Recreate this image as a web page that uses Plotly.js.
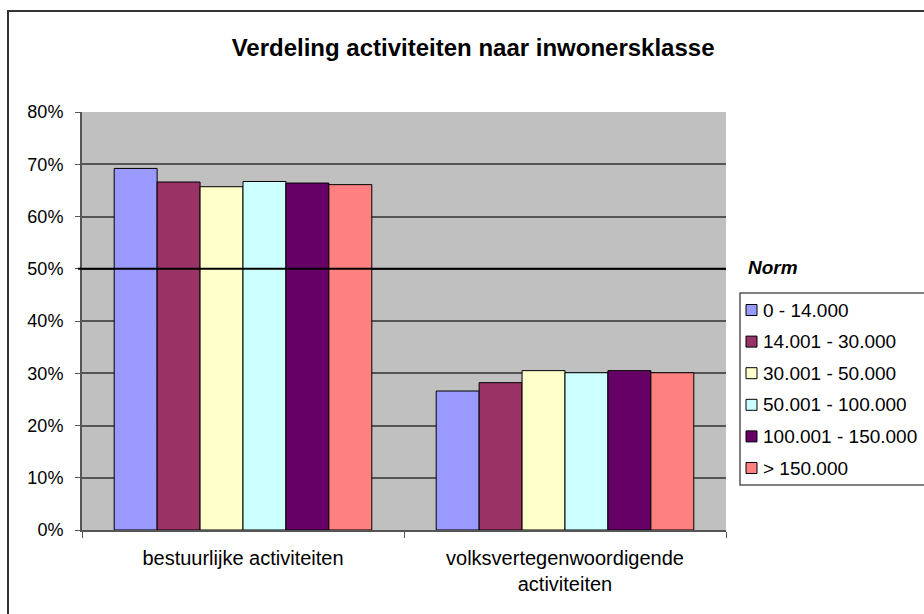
<!DOCTYPE html>
<html>
<head>
<meta charset="utf-8">
<script src="https://cdn.plot.ly/plotly-3.0.1.min.js"></script>
<style>html,body{margin:0;padding:0;background:#fff;}#chart{width:924px;height:614px;}</style>
</head>
<body>
<div id="chart"></div>
<script>
var categories = ["bestuurlijke activiteiten", "volksvertegenwoordigende<br>activiteiten"];
var seriesNames = ["0 - 14.000", "14.001 - 30.000", "30.001 - 50.000", "50.001 - 100.000", "100.001 - 150.000", "> 150.000"];
var s1 = [0.692, 0.266];
var s2 = [0.666, 0.282];
var s3 = [0.657, 0.305];
var s4 = [0.667, 0.301];
var s5 = [0.664, 0.305];
var s6 = [0.661, 0.301];
var normValue = 0.5;
var legendTitle = "Norm";
var colors = ["#9999FF", "#993366", "#FFFFCC", "#CCFFFF", "#660066", "#FF8080"];

var seriesValues = [s1, s2, s3, s4, s5, s6];
var traces = seriesValues.map(function (vals, i) {
  return {
    type: "bar",
    name: seriesNames[i],
    x: categories,
    y: vals,
    marker: { color: colors[i], line: { color: "#000", width: 1 } },
    hoverinfo: "skip",
    showlegend: false
  };
});

// pixel -> paper helpers (plot area: x 82..726, y 112..530)
function px(x) { return (x - 82) / 644; }
function py(y) { return (530 - y) / 418; }

var font = "Liberation Sans, Arial, sans-serif";

var shapes = [
  { type: "rect", xref: "paper", yref: "paper", x0: px(8), x1: px(1000), y0: py(700), y1: py(11), line: { color: "#333", width: 2 }, layer: "below" },
  { type: "line", xref: "paper", yref: "y", x0: px(78), x1: 1, y0: normValue, y1: normValue, line: { color: "#000", width: 2 } },
  { type: "rect", xref: "paper", yref: "paper", x0: px(740), x1: px(1000), y0: py(485), y1: py(293), line: { color: "#555", width: 1.5 }, fillcolor: "#fff" }
];
var annotations = [{
  text: "<b><i>" + legendTitle + "</i></b>", xref: "paper", yref: "paper",
  x: px(746), xanchor: "left", y: py(267), yanchor: "middle",
  showarrow: false, font: { family: font, size: 19, color: "#000" }
}];
seriesNames.forEach(function (name, i) {
  var cy = 310 + i * 31.6;
  shapes.push({ type: "rect", xref: "paper", yref: "paper", x0: px(746), x1: px(757), y0: py(cy + 5.5), y1: py(cy - 5.5), fillcolor: colors[i], line: { color: "#000", width: 1 } });
  annotations.push({ text: name, xref: "paper", yref: "paper", x: px(761), xanchor: "left", y: py(cy), yanchor: "middle", showarrow: false, font: { family: font, size: 19, color: "#000" } });
});

var layout = {
  width: 924, height: 614,
  margin: { l: 82, r: 198, t: 112, b: 84 },
  paper_bgcolor: "#fff",
  plot_bgcolor: "#C0C0C0",
  font: { family: font, size: 18, color: "#000" },
  title: { text: "<b>Verdeling activiteiten naar inwonersklasse</b>", font: { family: font, size: 24, color: "#000" }, x: 0.512, xref: "container", xanchor: "center", y: 0.923, yanchor: "middle" },
  barmode: "group",
  bargap: 0.2,
  bargroupgap: 0,
  showlegend: false,
  xaxis: {
    type: "category",
    tickson: "boundaries",
    ticks: "outside", ticklen: 6, tickcolor: "#555",
    showline: true, linecolor: "#555", linewidth: 2,
    showgrid: false,
    tickfont: { family: font, size: 20 },
    ticklabelstandoff: 9,
    fixedrange: true
  },
  yaxis: {
    range: [0, 0.8],
    dtick: 0.1,
    tickformat: ".0%",
    ticks: "outside", ticklen: 5, tickcolor: "#555",
    showline: true, linecolor: "#555", linewidth: 2,
    gridcolor: "#555", gridwidth: 2,
    zeroline: false,
    tickfont: { family: font, size: 18 },
    ticklabelstandoff: 8,
    fixedrange: true
  },
  shapes: shapes,
  annotations: annotations
};

Plotly.newPlot("chart", traces, layout, { displayModeBar: false, staticPlot: true });
</script>
</body>
</html>
